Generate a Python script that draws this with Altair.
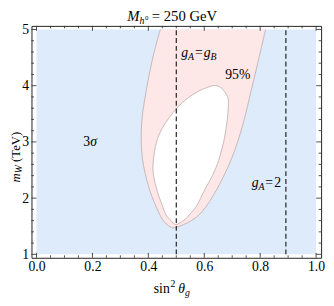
import altair as alt
import pandas as pd

# ---- data ----
x_major = [0.0, 0.2, 0.4, 0.6, 0.8, 1.0]
x_minor = [0.05, 0.1, 0.15, 0.25, 0.3, 0.35, 0.45, 0.5, 0.55, 0.65, 0.7, 0.75, 0.85, 0.9, 0.95]
y_major = [1, 2, 3, 4, 5]
y_minor = [1.2, 1.4, 1.6, 1.8, 2.2, 2.4, 2.6, 2.8, 3.2, 3.4, 3.6, 3.8, 4.2, 4.4, 4.6, 4.8]

# 3 sigma region (background)
bg_x = [0.0, 1.0]
bg_y = [1.0, 5.0]

# 95% region boundary (left / right edge at each m_W)
outer_y = [1.470, 1.531, 1.601, 1.757, 2.158, 2.732, 3.324, 3.898, 4.542, 5.0]
outer_xl = [0.488, 0.467, 0.453, 0.436, 0.404, 0.378, 0.376, 0.392, 0.418, 0.443]
outer_xr = [0.488, 0.526, 0.554, 0.592, 0.645, 0.700, 0.739, 0.767, 0.798, 0.819]

# inner (allowed) region boundary
ell_y = [1.531, 1.601, 1.705, 1.879, 2.123, 2.419, 2.680, 2.993, 3.237, 3.428, 3.620, 3.776, 3.898, 3.968, 4.003]
ell_xl = [0.498, 0.481, 0.463, 0.449, 0.432, 0.418, 0.418, 0.429, 0.449, 0.474, 0.505, 0.540, 0.578, 0.610, 0.638]
ell_xr = [0.498, 0.526, 0.547, 0.575, 0.599, 0.631, 0.652, 0.669, 0.678, 0.683, 0.686, 0.685, 0.672, 0.659, 0.638]

# dashed reference lines
dash_x = [0.5, 0.892]

BLUE = "#ddebfa"
PINK = "#fde7e7"
EDGE = "#bfa9a9"
SERIF = "Liberation Serif"
W, H = 296, 237

xs = alt.Scale(domain=[-0.018, 1.018], nice=False, zero=False)
ys = alt.Scale(domain=[0.939, 5.064], nice=False, zero=False)
xaxis = alt.Axis(values=x_major, format=".1f", ticks=False, domain=False, grid=False,
                 labelFont=SERIF, labelFontSize=14, labelColor="black", labelPadding=2,
                 tickSize=0, title=None)
yaxis = alt.Axis(values=y_major, format="d", ticks=False, domain=False, grid=False,
                 labelFont=SERIF, labelFontSize=14, labelColor="black", labelPadding=3,
                 tickSize=0, title=None)


def X(f):
    return alt.X(f, type="quantitative", scale=xs, axis=xaxis)


def Y(f):
    return alt.Y(f, type="quantitative", scale=ys, axis=yaxis)


bg = alt.Chart(pd.DataFrame({"x0": [bg_x[0]], "x1": [bg_x[1]], "y0": [bg_y[0]], "y1": [bg_y[1]]})).mark_rect(
    color=BLUE).encode(x=X("x0"), x2="x1", y=Y("y0"), y2="y1")

outer_df = pd.DataFrame({"y": outer_y, "xl": outer_xl, "xr": outer_xr})
outer = alt.Chart(outer_df).mark_area(orient="horizontal", interpolate="catmull-rom", color=PINK).encode(
    y=Y("y"), x=X("xl"), x2="xr")

ell_df = pd.DataFrame({"y": ell_y, "xl": ell_xl, "xr": ell_xr})
inner = alt.Chart(ell_df).mark_area(orient="horizontal", interpolate="catmull-rom", color="white").encode(
    y=Y("y"), x=X("xl"), x2="xr")

# outlines
ox = list(reversed(outer_xl)) + outer_xr[1:]
oy = list(reversed(outer_y)) + outer_y[1:]
outer_line = alt.Chart(pd.DataFrame({"x": ox, "y": oy, "o": list(range(len(ox)))})).mark_line(
    interpolate="catmull-rom", color=EDGE, strokeWidth=0.8).encode(x=X("x"), y=Y("y"), order="o:Q")

ex = ell_xl[:-1] + list(reversed(ell_xr[1:]))
ey = ell_y[:-1] + list(reversed(ell_y[1:]))
inner_line = alt.Chart(pd.DataFrame({"x": ex, "y": ey, "o": list(range(len(ex)))})).mark_line(
    interpolate="cardinal-closed", color=EDGE, strokeWidth=0.8).encode(x=X("x"), y=Y("y"), order="o:Q")

dash = alt.Chart(pd.DataFrame({"x": dash_x, "y0": [1.0, 1.0], "y1": [5.0, 5.0]})).mark_rule(
    color="#222", strokeWidth=1.2, strokeDash=[5, 3]).encode(x=X("x"), y=Y("y0"), y2="y1")

# frame ticks (inside, on all four sides)
tick_layers = []
for vals, ln in [(x_major, 5), (x_minor, 2.5)]:
    d = pd.DataFrame({"v": vals})
    tick_layers.append(alt.Chart(d).mark_rule(color="#222", strokeWidth=0.8).encode(
        x=X("v"), y=alt.value(H), y2=alt.value(H - ln)))
    tick_layers.append(alt.Chart(d).mark_rule(color="#222", strokeWidth=0.8).encode(
        x=X("v"), y=alt.value(0), y2=alt.value(ln)))
for vals, ln in [(y_major, 5), (y_minor, 2.5)]:
    d = pd.DataFrame({"v": vals})
    tick_layers.append(alt.Chart(d).mark_rule(color="#222", strokeWidth=0.8).encode(
        y=Y("v"), x=alt.value(0), x2=alt.value(ln)))
    tick_layers.append(alt.Chart(d).mark_rule(color="#222", strokeWidth=0.8).encode(
        y=Y("v"), x=alt.value(W), x2=alt.value(W - ln)))


def txt(s, x, y, size=14, style="normal", angle=0):
    return alt.Chart(pd.DataFrame({"t": [s]})).mark_text(
        font=SERIF, fontSize=size, fontStyle=style, align="left", baseline="alphabetic",
        angle=angle, color="black").encode(text="t:N", x=alt.value(x), y=alt.value(y))


texts = [
    # title M_{h^0} = 250 GeV
    txt("M", 98, -4.5, 15, "italic"),
    txt("h", 110.5, -1.5, 10, "italic"),
    txt("0", 116, -6.5, 7),
    txt("= 250 GeV", 123, -4.5, 15),
    # g_A = g_B
    txt("g", 153, 32, 14, "italic"),
    txt("A", 160, 35, 10, "italic"),
    txt("=", 167, 32, 14),
    txt("g", 176, 32, 14, "italic"),
    txt("B", 183, 35, 10, "italic"),
    # 95%
    txt("95%", 198, 54, 14),
    # 3 sigma
    txt("3", 53, 123, 14),
    txt("σ", 60, 123, 14, "italic"),
    # g_A = 2
    txt("g", 225, 165, 14, "italic"),
    txt("A", 232, 168, 10, "italic"),
    txt("=", 239, 165, 14),
    txt("2", 248, 165, 14),
    # x title sin^2 theta_g
    txt("sin", 125, 273, 14),
    txt("2", 142, 267, 10),
    txt("θ", 150, 273, 14, "italic"),
    txt("g", 157, 276, 10, "italic"),
    # y title m_W (TeV)
    txt("m", -12, 160, 13, "italic", 270),
    txt("W", -9.5, 150.5, 10, "italic", 270),
    txt("(TeV)", -12, 139, 13, "normal", 270),
]

chart = alt.layer(bg, outer, inner, outer_line, inner_line, dash, *tick_layers, *texts).properties(
    width=W, height=H, autosize="none",
    padding={"left": 24, "top": 15, "right": 5, "bottom": 46},
).configure_view(stroke="#222", strokeWidth=1)

chart.save("out.html", embed_options={"renderer": "svg", "actions": False})
